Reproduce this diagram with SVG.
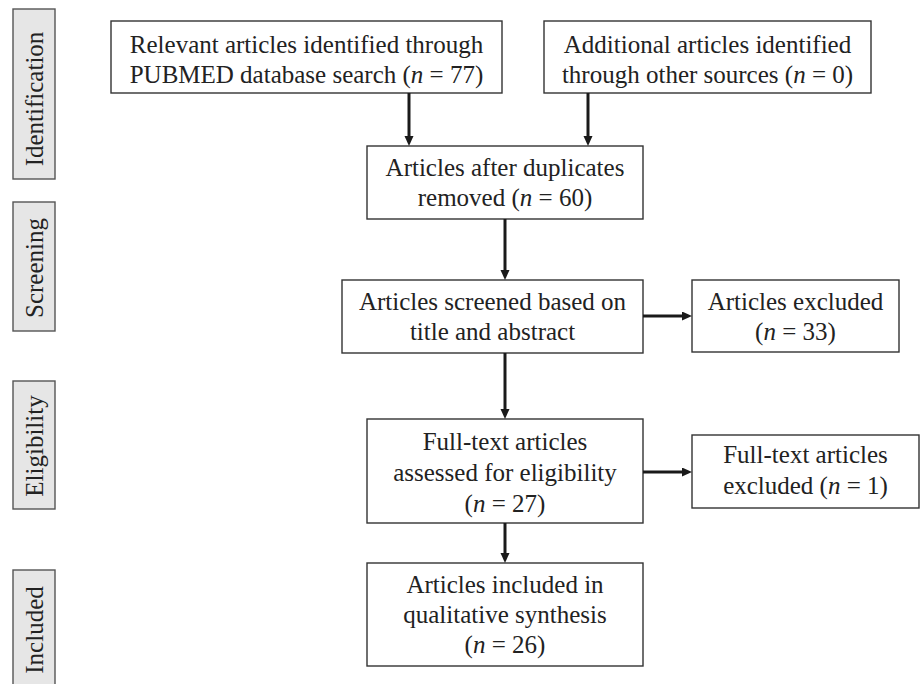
<svg xmlns="http://www.w3.org/2000/svg" width="920" height="684" viewBox="0 0 920 684">
<style>
  .box { fill: #ffffff; stroke: #333333; stroke-width: 1.4; }
  .side { fill: #e6e6e6; stroke: #555555; stroke-width: 1.4; }
  text { font-family: "Liberation Serif", "Times New Roman", serif; font-size: 25px; fill: #222222; text-anchor: middle; }
  .it { font-style: italic; }
  .conn { stroke: #1a1a1a; stroke-width: 3; fill: none; }
</style>
<defs>
  <marker id="ah" markerUnits="userSpaceOnUse" markerWidth="10" markerHeight="10" refX="4" refY="4.5" orient="auto">
    <path d="M0,0 L10,4.5 L0,9 Z" fill="#1a1a1a"/>
  </marker>
</defs>

<g id="label-identification">
  <rect class="side" x="13" y="9" width="42" height="170"/>
  <text transform="translate(42.5,99) rotate(-90)">Identification</text>
</g>
<g id="label-screening">
  <rect class="side" x="13" y="202" width="42" height="129"/>
  <text transform="translate(42.5,268) rotate(-90)">Screening</text>
</g>
<g id="label-eligibility">
  <rect class="side" x="13" y="381" width="42" height="128"/>
  <text transform="translate(42.5,446) rotate(-90)">Eligibility</text>
</g>
<g id="label-included">
  <rect class="side" x="13" y="570" width="42" height="120"/>
  <text transform="translate(42.5,630) rotate(-90)">Included</text>
</g>

<g id="node-pubmed">
  <rect class="box" x="111" y="21" width="391" height="72"/>
  <text x="306.5" y="53">Relevant articles identified through</text>
  <text x="306.5" y="83">PUBMED database search (<tspan class="it">n</tspan> = 77)</text>
</g>
<g id="node-other">
  <rect class="box" x="544" y="21" width="327" height="72"/>
  <text x="707.5" y="53">Additional articles identified</text>
  <text x="707.5" y="83">through other sources (<tspan class="it">n</tspan> = 0)</text>
</g>
<g id="node-dedup">
  <rect class="box" x="367" y="146" width="276" height="73"/>
  <text x="505" y="176">Articles after duplicates</text>
  <text x="505" y="206">removed (<tspan class="it">n</tspan> = 60)</text>
</g>
<g id="node-screened">
  <rect class="box" x="342" y="280" width="301" height="73"/>
  <text x="492.5" y="310">Articles screened based on</text>
  <text x="492.5" y="340">title and abstract</text>
</g>
<g id="node-excluded">
  <rect class="box" x="692" y="280" width="207" height="72"/>
  <text x="795.5" y="310">Articles excluded</text>
  <text x="795.5" y="340">(<tspan class="it">n</tspan> = 33)</text>
</g>
<g id="node-fulltext">
  <rect class="box" x="367" y="419" width="276" height="104"/>
  <text x="505" y="450">Full-text articles</text>
  <text x="505" y="481">assessed for eligibility</text>
  <text x="505" y="512">(<tspan class="it">n</tspan> = 27)</text>
</g>
<g id="node-ft-excluded">
  <rect class="box" x="692" y="435" width="227" height="73"/>
  <text x="805.5" y="463">Full-text articles</text>
  <text x="805.5" y="494">excluded (<tspan class="it">n</tspan> = 1)</text>
</g>
<g id="node-included">
  <rect class="box" x="367" y="563" width="276" height="103"/>
  <text x="505" y="593">Articles included in</text>
  <text x="505" y="623">qualitative synthesis</text>
  <text x="505" y="653">(<tspan class="it">n</tspan> = 26)</text>
</g>

<g id="connectors">
  <line class="conn" x1="409" y1="93" x2="409" y2="140" marker-end="url(#ah)"/>
  <line class="conn" x1="588" y1="93" x2="588" y2="140" marker-end="url(#ah)"/>
  <line class="conn" x1="505" y1="219" x2="505" y2="274" marker-end="url(#ah)"/>
  <line class="conn" x1="643" y1="316" x2="686" y2="316" marker-end="url(#ah)"/>
  <line class="conn" x1="505" y1="353" x2="505" y2="413" marker-end="url(#ah)"/>
  <line class="conn" x1="643" y1="472" x2="686" y2="472" marker-end="url(#ah)"/>
  <line class="conn" x1="505" y1="523" x2="505" y2="557" marker-end="url(#ah)"/>
</g>
</svg>
